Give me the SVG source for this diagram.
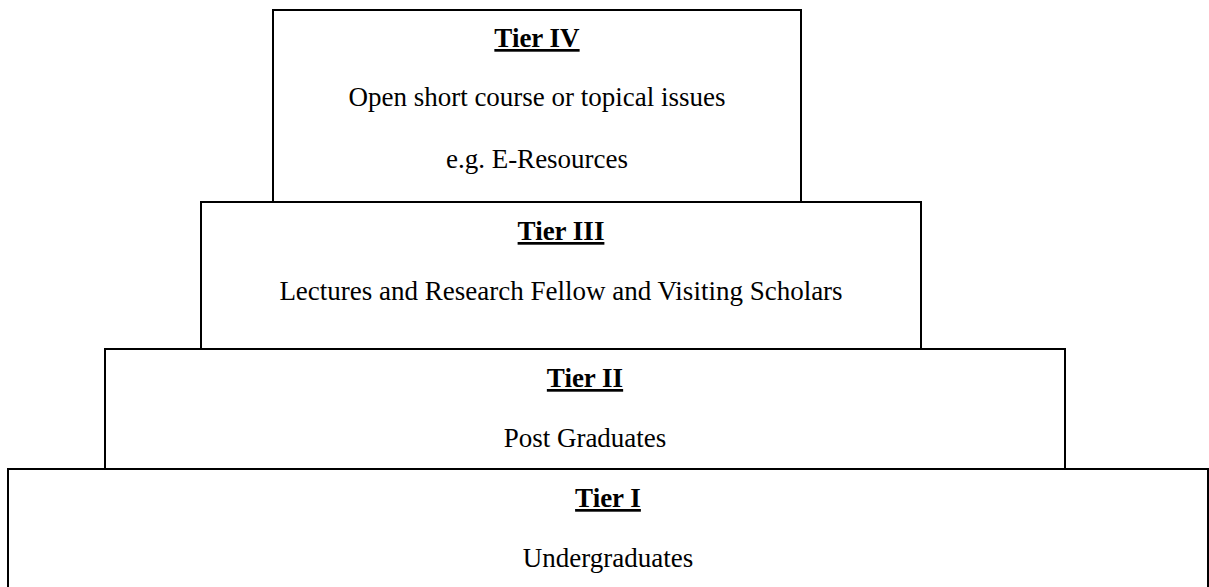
<svg xmlns="http://www.w3.org/2000/svg" width="1209" height="587" viewBox="0 0 1209 587">
<style>
.box{fill:#fff;stroke:#000;stroke-width:2}
text{font-family:"Liberation Serif","Times New Roman",serif;font-size:27px;fill:#000;text-anchor:middle}
.title{font-weight:bold;text-decoration:underline}
</style>
<rect width="1209" height="587" fill="#fff"/>
<g id="tier4">
<rect class="box" x="273" y="10" width="528" height="192"/>
<text class="title" x="537" y="47">Tier IV</text>
<text x="537" y="106">Open short course or topical issues</text>
<text x="537" y="168">e.g. E-Resources</text>
</g>
<g id="tier3">
<rect class="box" x="201" y="202" width="720" height="147"/>
<text class="title" x="561" y="240">Tier III</text>
<text x="561" y="300">Lectures and Research Fellow and Visiting Scholars</text>
</g>
<g id="tier2">
<rect class="box" x="105" y="349" width="960" height="120"/>
<text class="title" x="585" y="387">Tier II</text>
<text x="585" y="447">Post Graduates</text>
</g>
<g id="tier1">
<rect class="box" x="8" y="469" width="1200" height="140"/>
<text class="title" x="608" y="507">Tier I</text>
<text x="608" y="567">Undergraduates</text>
</g>
<g id="connectors"></g>
</svg>
